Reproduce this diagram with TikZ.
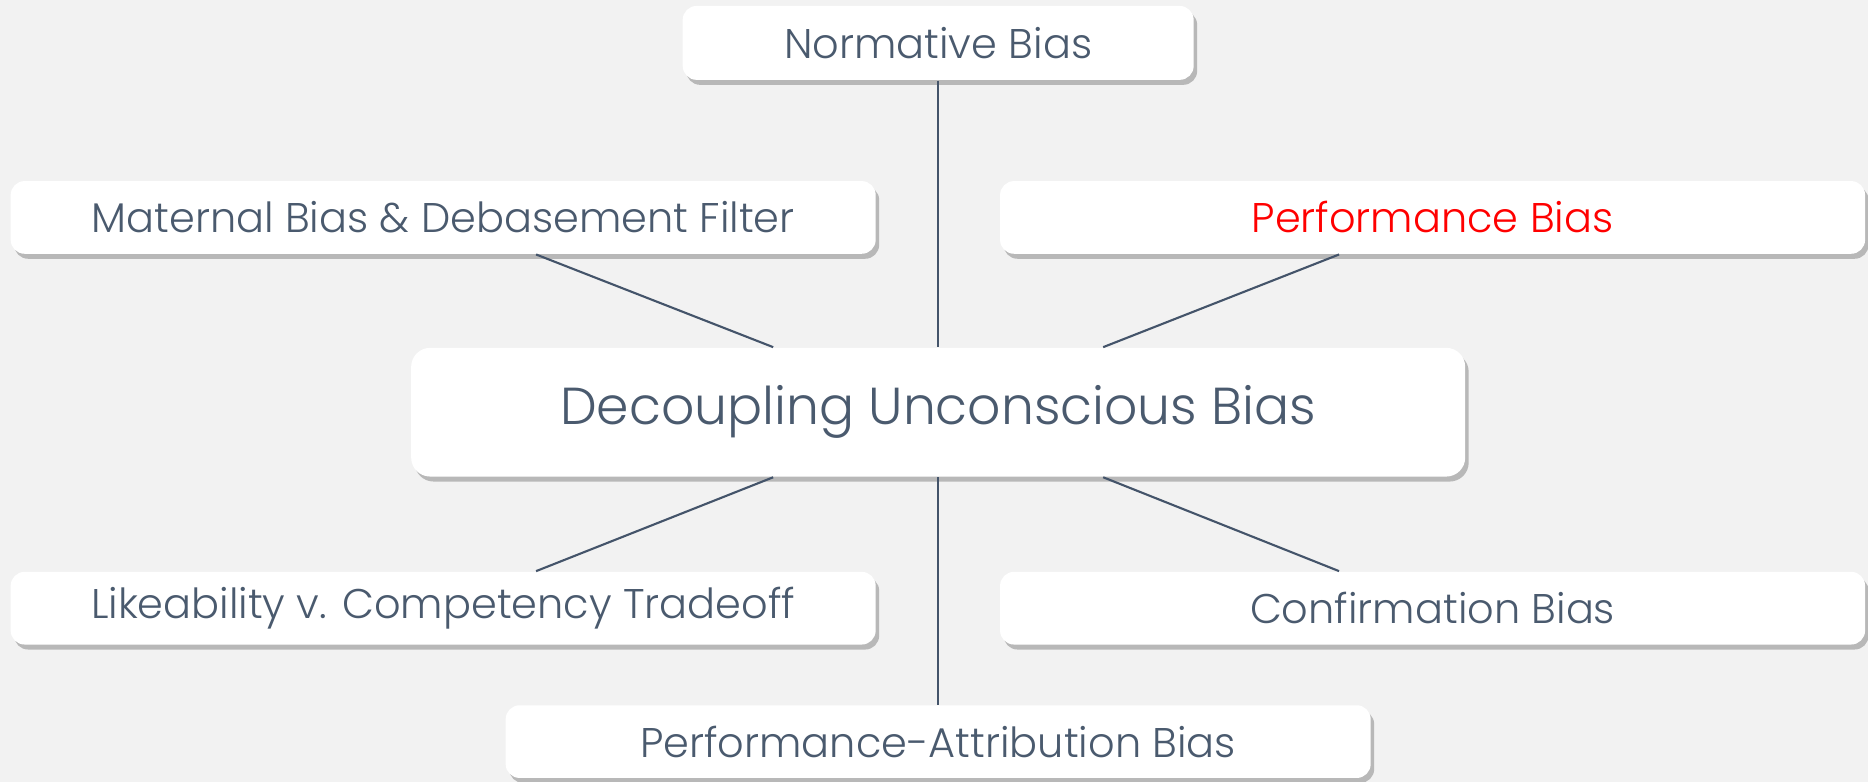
\documentclass[tikz,border=0pt]{standalone}
\usepackage{fontspec}
\setmainfont{Poppins}[UprightFont=* Light]
\usetikzlibrary{shadows,calc}
\definecolor{bg}{HTML}{F2F2F2}
\definecolor{txt}{HTML}{4A5A6E}
\definecolor{ln}{HTML}{44546A}
\tikzset{
  box/.style={draw=none, fill=white, rounded corners=0.14cm, inner sep=0pt, text=txt,
    minimum width=8.65cm, minimum height=0.727cm, font=\fontsize{11.8}{14}\selectfont,
    drop shadow={shadow xshift=0.035cm, shadow yshift=-0.05cm, opacity=0.35, fill=black!70}},
  conn/.style={draw=ln, line width=0.6pt}
}
\begin{document}
\begin{tikzpicture}[x=1.1913cm,y=1.1913cm]
\fill[bg] (0,0) rectangle (15.68,6.56);
\useasboundingbox (0,0) rectangle (15.68,6.56);
\node[box, minimum width=5.11cm, minimum height=0.739cm] (norm) at (7.875,6.20) {Normative Bias};
\node[box] (mat) at (3.72,4.735) {Maternal Bias \& Debasement Filter};
\node[box, text=red] (perf) at (12.025,4.735) {Performance Bias};
\node[box, rounded corners=0.19cm, minimum width=10.54cm, minimum height=1.287cm, font=\fontsize{14.8}{18}\selectfont] (dec) at (7.875,3.10) {Decoupling Unconscious Bias};
\node[box] (lik) at (3.72,1.455) {Likeability v. Competency Tradeoff};
\node[box] (conf) at (12.025,1.455) {Confirmation Bias};
\node[box] (pab) at (7.875,0.335) {Performance-Attribution Bias};
\draw[conn] (norm.south) -- (dec.north);
\draw[conn] ($(mat.south)+(0.78,0)$) -- ($(dec.north)+(-1.385,0)$);
\draw[conn] ($(perf.south)+(-0.785,0)$) -- ($(dec.north)+(1.385,0)$);
\draw[conn] ($(dec.south)+(-1.385,0)$) -- ($(lik.north)+(0.78,0)$);
\draw[conn] ($(dec.south)+(1.385,0)$) -- ($(conf.north)+(-0.785,0)$);
\draw[conn] (dec.south) -- (pab.north);
\end{tikzpicture}
\end{document}
